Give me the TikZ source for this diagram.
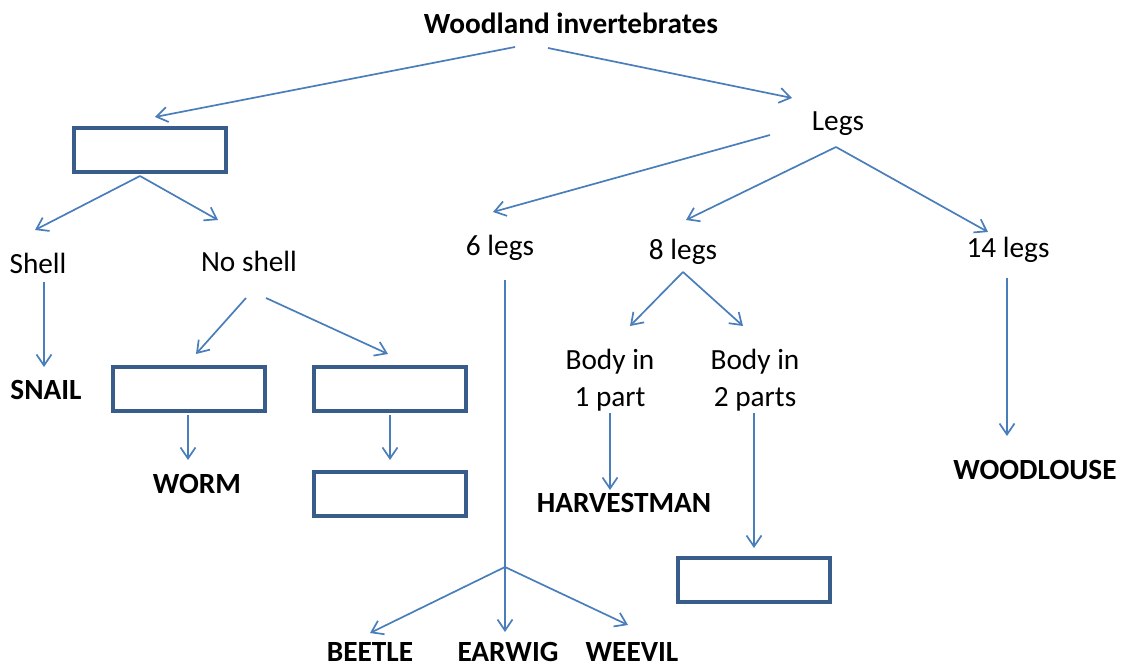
\documentclass[tikz,border=0pt]{standalone}
\usepackage{fontspec}
\setmainfont{Carlito}
\usetikzlibrary{arrows.meta}
\definecolor{linkblue}{HTML}{4A7EBB}
\definecolor{boxblue}{HTML}{385D8A}

\begin{document}
\begin{tikzpicture}[x=1pt,y=-1pt,
lbl/.style={inner sep=0pt, font=\fontsize{29.3}{37}\selectfont, text height=20pt, text depth=6pt},
twoline/.style={inner sep=0pt, font=\fontsize{29.3}{37}\selectfont, align=center},
animal/.style={lbl, font=\fontsize{29.3}{37}\selectfont\bfseries},
lowanimal/.style={animal, text depth=0pt},
blank/.style={draw=boxblue, line width=4pt, minimum width=152pt, minimum height=44pt, inner sep=0pt},
arrow/.style={-{Straight Barb[length=11pt,width=15pt]}, draw=linkblue, line width=1.7pt},
link/.style={draw=linkblue, line width=1.7pt}
]
\useasboundingbox (0,0) rectangle (1121,668);

\node[animal] (top) at (571,27) {Woodland invertebrates};
\node[blank] (box1) at (150,150) {};
\node[lbl] (legs) at (838,124) {Legs};
\node[lbl] (shell) at (38,266) {Shell};
\node[lbl] (noshell) at (249,265) {No shell};
\node[lbl] (six) at (500,248) {6 legs};
\node[lbl] (eight) at (683,252) {8 legs};
\node[lbl] (fourteen) at (1008,251) {14 legs};
\node[animal] (snail) at (46,392) {SNAIL};
\node[blank] (box2) at (189,389) {};
\node[blank] (box3) at (390,389) {};
\node[blank] (box4) at (390,494) {};
\node[animal] (worm) at (197,486) {WORM};
\node[twoline] (body1) at (610,380) {Body in\\1 part};
\node[twoline] (body2) at (755,380) {Body in\\2 parts};
\node[animal] (harvest) at (624,505) {HARVESTMAN};
\node[blank] (box5) at (754,580) {};
\node[animal] (woodlouse) at (1035,472) {WOODLOUSE};
\node[lowanimal] (beetle) at (370,651) {BEETLE};
\node[lowanimal] (earwig) at (508,651) {EARWIG};
\node[lowanimal] (weevil) at (632,651) {WEEVIL};

\coordinate (split) at (505,567);

% top level
\draw[arrow] ([shift={(-56,20)}]top.center) -- ([shift={(5,-33)}]box1.center);
\draw[arrow] ([shift={(-23,21)}]top.center) -- ([shift={(-46,-26)}]legs.center);

% no legs
\draw[arrow] ([shift={(-10,2)}]box1.south) -- ([shift={(-3,-36)}]shell.center);
\draw[arrow] ([shift={(-10,2)}]box1.south) -- ([shift={(-31,-45)}]noshell.center);
\draw[arrow] ([shift={(6,16)}]shell.center) -- ([shift={(-2,-25)}]snail.center);
\draw[arrow] ([shift={(-3,33)}]noshell.center) -- ([shift={(7,-35)}]box2.center);
\draw[arrow] ([shift={(17,33)}]noshell.center) -- ([shift={(-2,-35)}]box3.center);
\draw[arrow] ([shift={(-1,2)}]box2.south) -- ([shift={(-9,-26)}]worm.center);
\draw[arrow] ([shift={(0,2)}]box3.south) -- ([shift={(0,-10)}]box4.north);

% legs
\draw[arrow] ([shift={(-68,11)}]legs.center) -- ([shift={(-7,-36)}]six.center);
\draw[arrow] ([shift={(-2,23)}]legs.center) -- ([shift={(3,-32)}]eight.center);
\draw[arrow] ([shift={(-2,23)}]legs.center) -- ([shift={(-20,-19)}]fourteen.center);

% 6 legs
\draw[link] ([shift={(5,32)}]six.center) -- (split);
\draw[arrow] (split) -- ([shift={(0,-18)}]beetle.center);
\draw[arrow] (split) -- ([shift={(-3,-19)}]earwig.center);
\draw[arrow] (split) -- ([shift={(-4,-26)}]weevil.center);

% 8 legs
\draw[arrow] ([shift={(0,20)}]eight.center) -- ([shift={(20,-54)}]body1.center);
\draw[arrow] ([shift={(0,20)}]eight.center) -- ([shift={(-12,-54)}]body2.center);
\draw[arrow] ([shift={(0,33)}]body1.center) -- ([shift={(-14,-15)}]harvest.center);
\draw[arrow] ([shift={(-1,33)}]body2.center) -- ([shift={(0,-32)}]box5.center);

% 14 legs
\draw[arrow] ([shift={(-1,27)}]fourteen.center) -- ([shift={(-28,-36)}]woodlouse.center);
\end{tikzpicture}
\end{document}
